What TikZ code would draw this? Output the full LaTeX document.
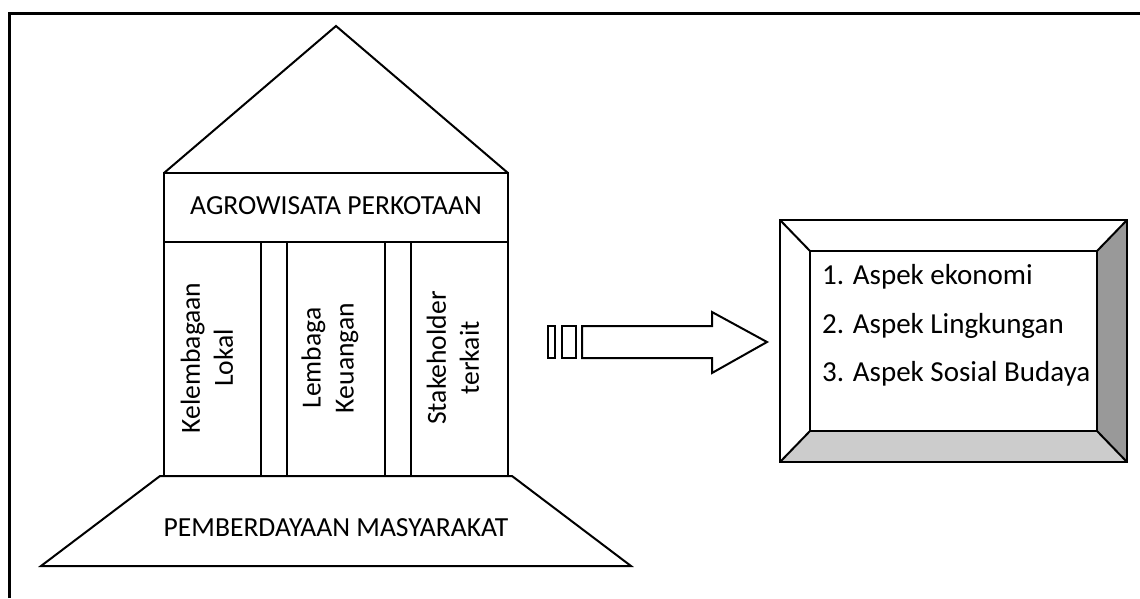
\documentclass[tikz,border=0pt]{standalone}
\usepackage{fontspec}
\setmainfont{Carlito}
\begin{document}
\begin{tikzpicture}[x=1pt,y=-1pt,line join=miter,
  outline/.style={draw=black,line width=2pt},
  lbl/.style={font=\fontsize{27.6}{33}\selectfont,inner sep=0pt,align=center},
  vlbl/.style={lbl,rotate=90},
  item/.style={font=\fontsize{29}{34}\selectfont,inner sep=0pt,anchor=west,align=left}]
\useasboundingbox (0,0) rectangle (1140,598);

% page frame (top and left edges)
\draw[line width=3pt] (9.5,598) -- (9.5,13) -- (1140,13);

% roof
\draw[outline] (164,173) -- (336,26) -- (508,173);

% beam
\draw[outline,fill=white] (164,173) rectangle (508,242);
\node[lbl] (beam) at (336,206) {AGROWISATA PERKOTAAN};

% pillars
\draw[outline] (164,242) rectangle (508,476);
\foreach \x in {261,287,385,411} \draw[outline] (\x,242) -- (\x,476);
\node[vlbl] (p1) at (207,358) {Kelembagaan\\Lokal};
\node[vlbl] (p2) at (330,358) {Lembaga\\Keuangan};
\node[vlbl] (p3) at (453,358) {Stakeholder\\terkait};

% foundation
\draw[outline] (160,476) -- (512,476) -- (631,566) -- (41,566) -- cycle;
\node[lbl] (base) at (336,528) {PEMBERDAYAAN MASYARAKAT};

% striped block arrow
\draw[outline] (548,326) rectangle (555,358);
\draw[outline] (562,326) rectangle (576,358);
\draw[outline] (582,326) -- (712,326) -- (712,312) -- (767,342)
  -- (712,373) -- (712,358) -- (582,358) -- cycle;

% bevelled frame
\coordinate (o1) at (780,220);
\coordinate (o2) at (1127,220);
\coordinate (o3) at (1127,462);
\coordinate (o4) at (780,462);
\coordinate (i1) at (810,251);
\coordinate (i2) at (1097,251);
\coordinate (i3) at (1097,431);
\coordinate (i4) at (810,431);
\fill[white] (o1) -- (o2) -- (i2) -- (i1) -- cycle;
\fill[white] (o1) -- (i1) -- (i4) -- (o4) -- cycle;
\fill[black!40] (o2) -- (o3) -- (i3) -- (i2) -- cycle;
\fill[black!20] (o4) -- (i4) -- (i3) -- (o3) -- cycle;
\draw[outline] (o1) rectangle (o3);
\draw[outline] (i1) rectangle (i3);
\draw[outline] (o1) -- (i1) (o2) -- (i2) (o3) -- (i3) (o4) -- (i4);
\node[item] (a1) at (822,277) {1. Aspek ekonomi};
\node[item] (a2) at (822,326) {2. Aspek Lingkungan};
\node[item] (a3) at (822,374) {3. Aspek Sosial Budaya};
\end{tikzpicture}
\end{document}
